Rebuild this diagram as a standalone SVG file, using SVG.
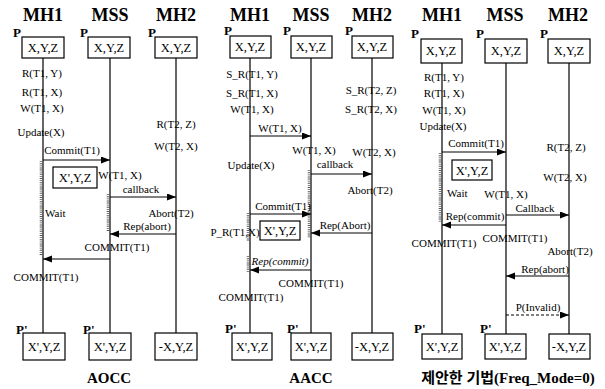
<svg xmlns="http://www.w3.org/2000/svg" width="605" height="389" viewBox="0 0 605 389" font-family="'Liberation Serif', 'Times New Roman', 'DejaVu Serif', serif">
<defs>
<marker id="ah" markerUnits="userSpaceOnUse" markerWidth="10" markerHeight="8" refX="9" refY="3.5" orient="auto">
<path d="M0,0 L9,3.5 L0,7 z" fill="#000"/>
</marker>
<style>
text{font-family:'Liberation Serif','Times New Roman','DejaVu Serif',serif;fill:#000}
.hd{font-size:18px;font-weight:bold;text-anchor:middle}
.p{font-size:13px;font-weight:bold}
.bx{fill:#fff;stroke:#000;stroke-width:1.2}
.bt{font-size:12.5px;text-anchor:middle}
.lb{font-size:11px;text-anchor:middle}
.ls{font-size:11px}
.ll{stroke:#000;stroke-width:1.2;fill:none}
.ar{stroke:#000;stroke-width:1;fill:none;marker-end:url(#ah)}
.da{stroke-dasharray:3 2}
.wv{stroke:#555;stroke-width:2.6;stroke-dasharray:0.8 1.1;fill:none}
.ti{font-size:15px;font-weight:bold;text-anchor:middle}
.kr{font-family:'Liberation Serif','Noto Sans CJK KR',serif}
</style>
</defs>
<rect width="605" height="389" fill="#fff"/>

<!-- ===== Panel 1: AOCC ===== -->
<g id="aocc-mh1">
<text class="hd" x="43" y="21">MH1</text>
<text class="p" x="13" y="37">P</text>
<rect class="bx" x="22" y="37" width="42" height="21"/>
<text class="bt" x="43" y="52">X,Y,Z</text>
<text class="p" x="16" y="334">P'</text>
<rect class="bx" x="23" y="333" width="42" height="27"/>
<text class="bt" x="44" y="351">X',Y,Z</text>
</g>
<g id="aocc-mss">
<text class="hd" x="110" y="21">MSS</text>
<text class="p" x="80" y="37">P</text>
<rect class="bx" x="88" y="37" width="42" height="21"/>
<text class="bt" x="109" y="52">X,Y,Z</text>
<text class="p" x="83" y="334">P'</text>
<rect class="bx" x="89" y="333" width="42" height="27"/>
<text class="bt" x="110" y="351">X',Y,Z</text>
</g>
<g id="aocc-mh2">
<text class="hd" x="176" y="21">MH2</text>
<text class="p" x="148" y="37">P</text>
<rect class="bx" x="155" y="37" width="42" height="21"/>
<text class="bt" x="176" y="52">X,Y,Z</text>
<rect class="bx" x="155" y="333" width="42" height="27"/>
<text class="bt" x="176" y="351">-X,Y,Z</text>
</g>
<g id="aocc-temp">
<rect class="bx" x="53" y="167" width="44" height="21"/>
<text class="bt" x="75" y="182">X',Y,Z</text>
</g>
<g id="aocc-connectors">
<line class="ll" x1="43" y1="58" x2="43" y2="333"/>
<line class="ll" x1="110" y1="58" x2="110" y2="333"/>
<line class="ll" x1="176" y1="58" x2="176" y2="333"/>
<line class="wv" x1="41" y1="161" x2="41" y2="256"/>
<line class="wv" x1="108" y1="194" x2="108" y2="232"/>
<line class="ar" x1="43" y1="160" x2="110" y2="160"/>
<line class="ar" x1="110" y1="197" x2="176" y2="197"/>
<line class="ar" x1="176" y1="234" x2="110" y2="234"/>
<line class="ar" x1="110" y1="259" x2="43" y2="259"/>
</g>
<g id="aocc-labels">
<text class="lb" x="42" y="77">R(T1, Y)</text>
<text class="lb" x="42" y="96">R(T1, X)</text>
<text class="lb" x="42" y="112">W(T1, X)</text>
<text class="lb" x="41" y="136">Update(X)</text>
<text class="lb" x="176" y="128">R(T2, Z)</text>
<text class="lb" x="176" y="150">W(T2, X)</text>
<text class="lb" x="72" y="154">Commit(T1)</text>
<text class="lb" x="120" y="179">W(T1, X)</text>
<text class="lb" x="141" y="193">callback</text>
<text class="ls" x="45" y="217">Wait</text>
<text class="lb" x="171" y="217">Abort(T2)</text>
<text class="lb" x="147" y="230">Rep(abort)</text>
<text class="lb" x="117" y="251">COMMIT(T1)</text>
<text class="lb" x="46" y="281">COMMIT(T1)</text>
<text class="ti" x="109" y="383">AOCC</text>
</g>

<!-- ===== Panel 2: AACC ===== -->
<g id="aacc-mh1">
<text class="hd" x="250" y="21">MH1</text>
<text class="p" x="224" y="35">P</text>
<rect class="bx" x="230" y="36" width="41" height="22"/>
<text class="bt" x="250" y="51">X,Y,Z</text>
<text class="p" x="225" y="333">P'</text>
<rect class="bx" x="232" y="333" width="40" height="27"/>
<text class="bt" x="252" y="351">X',Y,Z</text>
</g>
<g id="aacc-mss">
<text class="hd" x="311" y="21">MSS</text>
<text class="p" x="283" y="35">P</text>
<rect class="bx" x="291" y="36" width="41" height="22"/>
<text class="bt" x="311" y="51">X,Y,Z</text>
<text class="p" x="287" y="333">P'</text>
<rect class="bx" x="291" y="333" width="40" height="27"/>
<text class="bt" x="311" y="351">X',Y,Z</text>
</g>
<g id="aacc-mh2">
<text class="hd" x="372" y="21">MH2</text>
<text class="p" x="345" y="35">P</text>
<rect class="bx" x="352" y="36" width="41" height="22"/>
<text class="bt" x="372" y="51">X,Y,Z</text>
<rect class="bx" x="352" y="333" width="41" height="27"/>
<text class="bt" x="372" y="351">-X,Y,Z</text>
</g>
<g id="aacc-temp">
<rect class="bx" x="260" y="221" width="40" height="19"/>
<text class="bt" x="280" y="235">X',Y,Z</text>
</g>
<g id="aacc-connectors">
<line class="ll" x1="250" y1="58" x2="250" y2="333"/>
<line class="ll" x1="311" y1="58" x2="311" y2="333"/>
<line class="ll" x1="372" y1="58" x2="372" y2="333"/>
<line class="wv" x1="309" y1="170" x2="309" y2="238"/>
<line class="wv" x1="248" y1="213" x2="248" y2="241"/>
<line class="wv" x1="248" y1="256" x2="248" y2="272"/>
<line class="ar" x1="250" y1="136" x2="311" y2="136"/>
<line class="ar" x1="311" y1="174" x2="372" y2="174"/>
<line class="ar" x1="250" y1="214" x2="311" y2="214"/>
<line class="ar" x1="372" y1="233" x2="311" y2="233"/>
<line class="ar" x1="311" y1="270" x2="250" y2="270"/>
</g>
<g id="aacc-labels">
<text class="lb" x="252" y="78">S_R(T1, Y)</text>
<text class="lb" x="252" y="97">S_R(T1, X)</text>
<text class="lb" x="252" y="113">W(T1, X)</text>
<text class="lb" x="371" y="94">S_R(T2, Z)</text>
<text class="lb" x="371" y="113">S_R(T2, X)</text>
<text class="lb" x="280" y="132">W(T1, X)</text>
<text class="lb" x="314" y="154">W(T1, X)</text>
<text class="lb" x="374" y="156">W(T2, X)</text>
<text class="lb" x="251" y="169">Update(X)</text>
<text class="lb" x="335" y="168">callback</text>
<text class="lb" x="370" y="194">Abort(T2)</text>
<text class="lb" x="283" y="210">Commit(T1)</text>
<text class="lb" x="235" y="236">P_R(T1,X)</text>
<text class="lb" x="345" y="229">Rep(Abort)</text>
<text class="lb" x="280" y="265" font-style="italic">Rep(commit)</text>
<text class="lb" x="311" y="287">COMMIT(T1)</text>
<text class="lb" x="251" y="301">COMMIT(T1)</text>
<text class="ti" x="311" y="383">AACC</text>
</g>

<!-- ===== Panel 3: proposed ===== -->
<g id="prop-mh1">
<text class="hd" x="442" y="21">MH1</text>
<text class="p" x="411" y="38">P</text>
<rect class="bx" x="421" y="39" width="41" height="24"/>
<text class="bt" x="441" y="55">X,Y,Z</text>
<text class="p" x="414" y="333">P'</text>
<rect class="bx" x="422" y="334" width="40" height="25"/>
<text class="bt" x="442" y="351">X',Y,Z</text>
</g>
<g id="prop-mss">
<text class="hd" x="505" y="21">MSS</text>
<text class="p" x="476" y="38">P</text>
<rect class="bx" x="485" y="39" width="42" height="24"/>
<text class="bt" x="506" y="55">X,Y,Z</text>
<text class="p" x="480" y="333">P'</text>
<rect class="bx" x="485" y="334" width="41" height="25"/>
<text class="bt" x="505" y="351">X',Y,Z</text>
</g>
<g id="prop-mh2">
<text class="hd" x="568" y="21">MH2</text>
<text class="p" x="540" y="38">P</text>
<rect class="bx" x="548" y="39" width="42" height="24"/>
<text class="bt" x="569" y="55">X,Y,Z</text>
<rect class="bx" x="549" y="334" width="41" height="25"/>
<text class="bt" x="569" y="351">-X,Y,Z</text>
</g>
<g id="prop-temp">
<rect class="bx" x="452" y="160" width="40" height="20"/>
<text class="bt" x="472" y="175">X',Y,Z</text>
</g>
<g id="prop-connectors">
<line class="ll" x1="442" y1="63" x2="442" y2="334"/>
<line class="ll" x1="506" y1="63" x2="506" y2="334"/>
<line class="ll" x1="569" y1="63" x2="569" y2="334"/>
<line class="wv" x1="440" y1="153" x2="440" y2="222"/>
<line class="ar" x1="442" y1="152" x2="506" y2="152"/>
<line class="ar" x1="506" y1="215" x2="569" y2="215"/>
<line class="ar" x1="506" y1="225" x2="442" y2="225"/>
<line class="ar" x1="569" y1="276" x2="506" y2="276"/>
<line class="ar da" x1="506" y1="315" x2="569" y2="315"/>
</g>
<g id="prop-labels">
<text class="lb" x="444" y="81">R(T1, Y)</text>
<text class="lb" x="444" y="97">R(T1, X)</text>
<text class="lb" x="444" y="114">W(T1, X)</text>
<text class="lb" x="443" y="130">Update(X)</text>
<text class="lb" x="476" y="147">Commit(T1)</text>
<text class="lb" x="566" y="151">R(T2, Z)</text>
<text class="lb" x="565" y="181">W(T2, X)</text>
<text class="ls" x="447" y="197">Wait</text>
<text class="lb" x="506" y="198">W(T1, X)</text>
<text class="lb" x="535" y="212">Callback</text>
<text class="lb" x="475" y="220">Rep(commit)</text>
<text class="lb" x="515" y="242">COMMIT(T1)</text>
<text class="lb" x="444" y="247">COMMIT(T1)</text>
<text class="lb" x="570" y="255">Abort(T2)</text>
<text class="lb" x="545" y="273">Rep(abort)</text>
<text class="lb" x="538" y="311">P(Invalid)</text>
<text class="ti kr" x="508" y="383">제안한 기법(Freq_Mode=0)</text>
</g>
</svg>
